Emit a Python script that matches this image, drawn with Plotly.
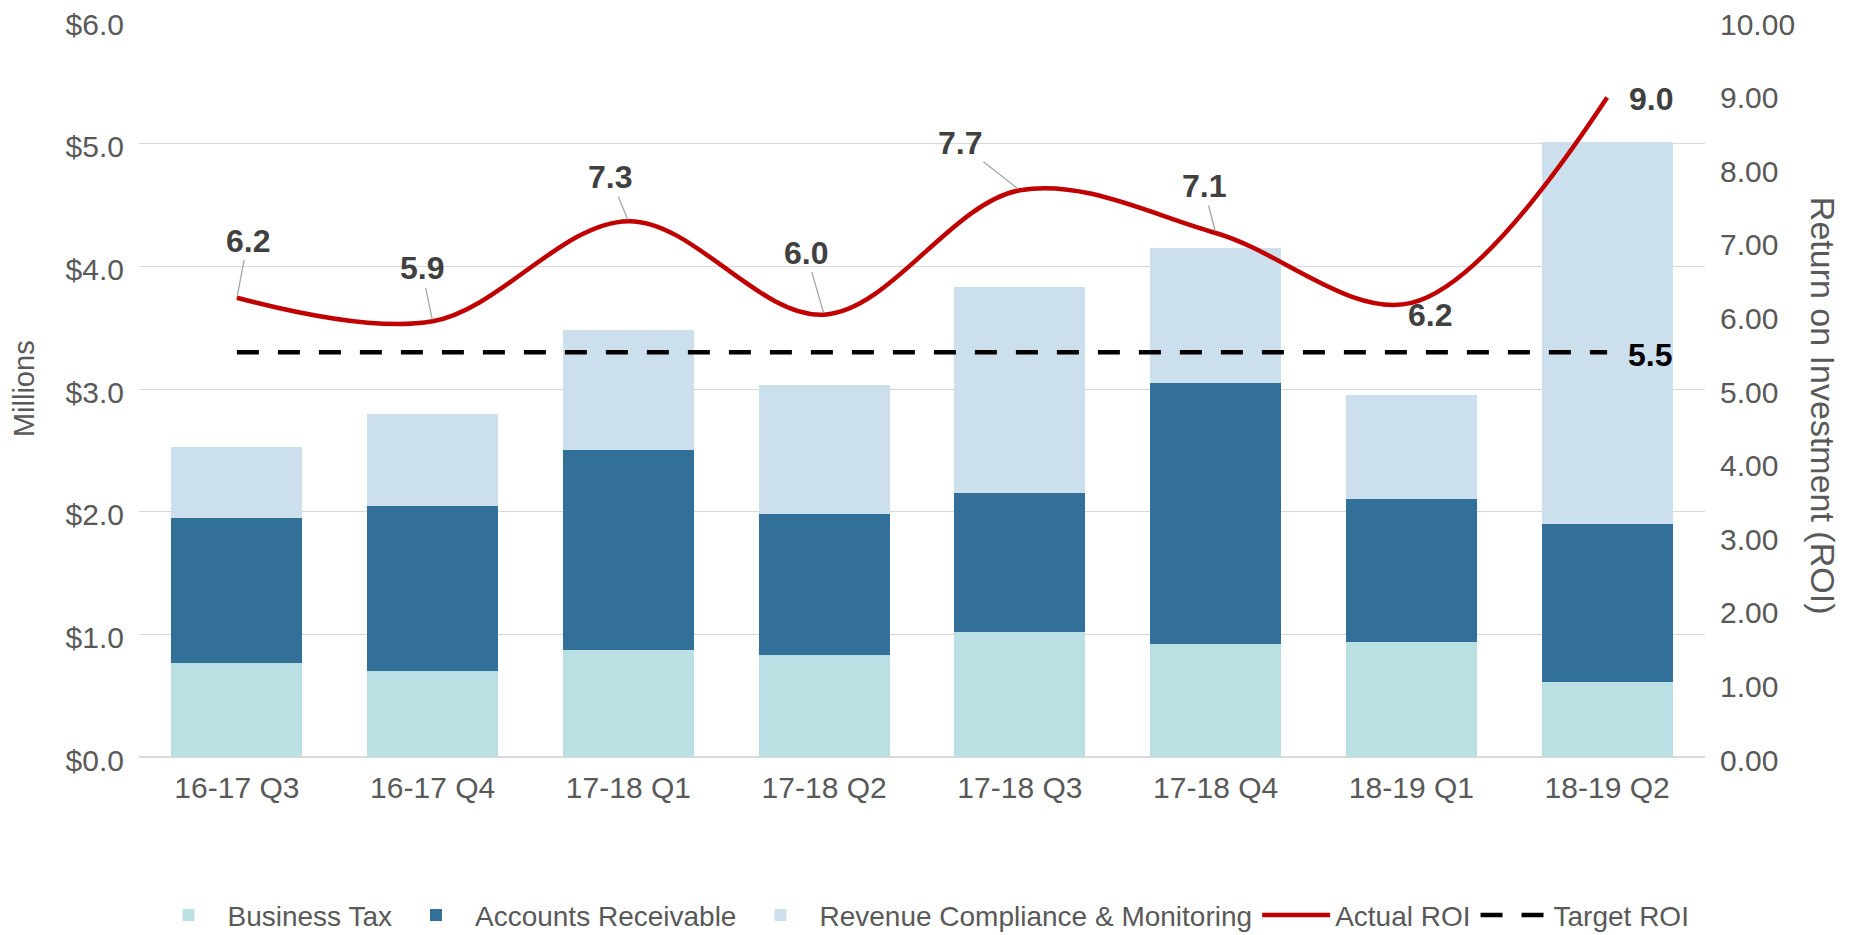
import plotly.graph_objects as go

# quarters on the x axis
quarters = ['16-17 Q3', '16-17 Q4', '17-18 Q1', '17-18 Q2',
            '17-18 Q3', '17-18 Q4', '18-19 Q1', '18-19 Q2']

# stacked collections, millions of dollars
business_tax = [0.77, 0.70, 0.87, 0.83, 1.02, 0.92, 0.94, 0.61]
accounts_receivable = [1.18, 1.35, 1.63, 1.15, 1.13, 2.13, 1.16, 1.29]
revenue_compliance = [0.58, 0.75, 0.98, 1.05, 1.68, 1.10, 0.85, 3.11]

# return on investment (right axis)
actual_roi = [6.24, 5.92, 7.28, 6.01, 7.70, 7.12, 6.17, 8.96]
target_roi = [5.5] * 8
roi_labels = ['6.2', '5.9', '7.3', '6.0', '7.7', '7.1', '6.2', '9.0']

FONT = 'Arial, Liberation Sans, sans-serif'
GREY = '#595959'

fig = go.Figure()

fig.add_trace(go.Bar(name='Business Tax', x=quarters, y=business_tax,
                     marker=dict(color='#BAE0E3', line_width=0)))
fig.add_trace(go.Bar(name='Accounts Receivable', x=quarters, y=accounts_receivable,
                     marker=dict(color='#326F99', line_width=0)))
fig.add_trace(go.Bar(name='Revenue Compliance & Monitoring', x=quarters,
                     y=revenue_compliance,
                     marker=dict(color='#CCDFEC', line_width=0)))

fig.add_trace(go.Scatter(name='Actual ROI', x=quarters, y=actual_roi, yaxis='y2',
                         mode='lines', line=dict(color='#C00000', width=4.5,
                                                 shape='spline', smoothing=1)))
fig.add_trace(go.Scatter(name='Target ROI', x=quarters, y=target_roi, yaxis='y2',
                         mode='lines', line=dict(color='black', width=4.5,
                                                 dash='22px,19px')))

# data labels for the ROI line: (text offset x, offset y, leader line?)
label_offsets = [(11, -57, True), (-11, -53, True), (-18, -44, True),
                 (-18, -62, True), (-60, -47, True), (-12, -47, True),
                 (19, 12, False), (44, 1, False)]

for q, v, txt, (ox, oy, leader) in zip(quarters, actual_roi, roi_labels, label_offsets):
    if leader:
        fig.add_annotation(x=q, y=v, xref='x', yref='y2', text='<b>%s</b>' % txt,
                           showarrow=True, arrowhead=0, arrowwidth=1.3,
                           arrowcolor='#A6A6A6', ax=ox, ay=oy, standoff=2,
                           font=dict(size=32, color='#404040', family=FONT))
    else:
        fig.add_annotation(x=q, y=v, xref='x', yref='y2', text='<b>%s</b>' % txt,
                           showarrow=False, xshift=ox, yshift=-oy,
                           font=dict(size=32, color='#404040', family=FONT))

# target label at the last point
fig.add_annotation(x=quarters[-1], y=target_roi[-1], xref='x', yref='y2',
                   text='<b>5.5</b>', showarrow=False, xshift=43, yshift=-3,
                   font=dict(size=32, color='black', family=FONT))

# axis titles
fig.add_annotation(x=-0.0734, y=0.5, xref='paper', yref='paper', text='Millions',
                   textangle=-90, showarrow=False, xanchor='center', yanchor='middle',
                   font=dict(size=29, color=GREY, family=FONT))
fig.add_annotation(x=1.0754, y=0.477, xref='paper', yref='paper',
                   text='Return on Investment (ROI)', textangle=90, showarrow=False,
                   xanchor='center', yanchor='middle',
                   font=dict(size=34, color=GREY, family=FONT))

# page body adds an 8px offset, so the figure is 8px smaller and margins shifted
fig.update_layout(
    width=1848, height=927, barmode='stack', bargap=0.33,
    plot_bgcolor='white', paper_bgcolor='white',
    font=dict(family=FONT, size=28, color=GREY),
    margin=dict(l=131, r=151, t=13, b=178, autoexpand=False),
    legend=dict(orientation='h', x=0.5, xanchor='center', y=-0.215, yanchor='middle',
                font=dict(size=28, color=GREY), itemwidth=68, traceorder='normal',
                tracegroupgap=0),
    showlegend=True,
)

fig.update_xaxes(showgrid=False, showline=False, zeroline=False, ticks='',
                 automargin=False,
                 tickfont=dict(size=30, color=GREY), ticklabelstandoff=10)

fig.update_layout(
    yaxis=dict(range=[0, 6], dtick=1, tickformat='$.1f', showgrid=True,
               gridcolor='#D9D9D9', gridwidth=1.3, zeroline=True,
               zerolinecolor='#D9D9D9', zerolinewidth=2, showline=False,
               automargin=False, ticklabeloverflow='allow', ticklabelshift=3,
               tickfont=dict(size=30, color=GREY), ticklabelstandoff=14),
    yaxis2=dict(range=[0, 10], dtick=1, tickformat='.2f', overlaying='y',
                side='right', showgrid=False, zeroline=False, showline=False,
                automargin=False, ticklabeloverflow='allow', ticklabelshift=3,
                tickfont=dict(size=30, color=GREY), ticklabelstandoff=14),
)

fig.write_html("out.html")
